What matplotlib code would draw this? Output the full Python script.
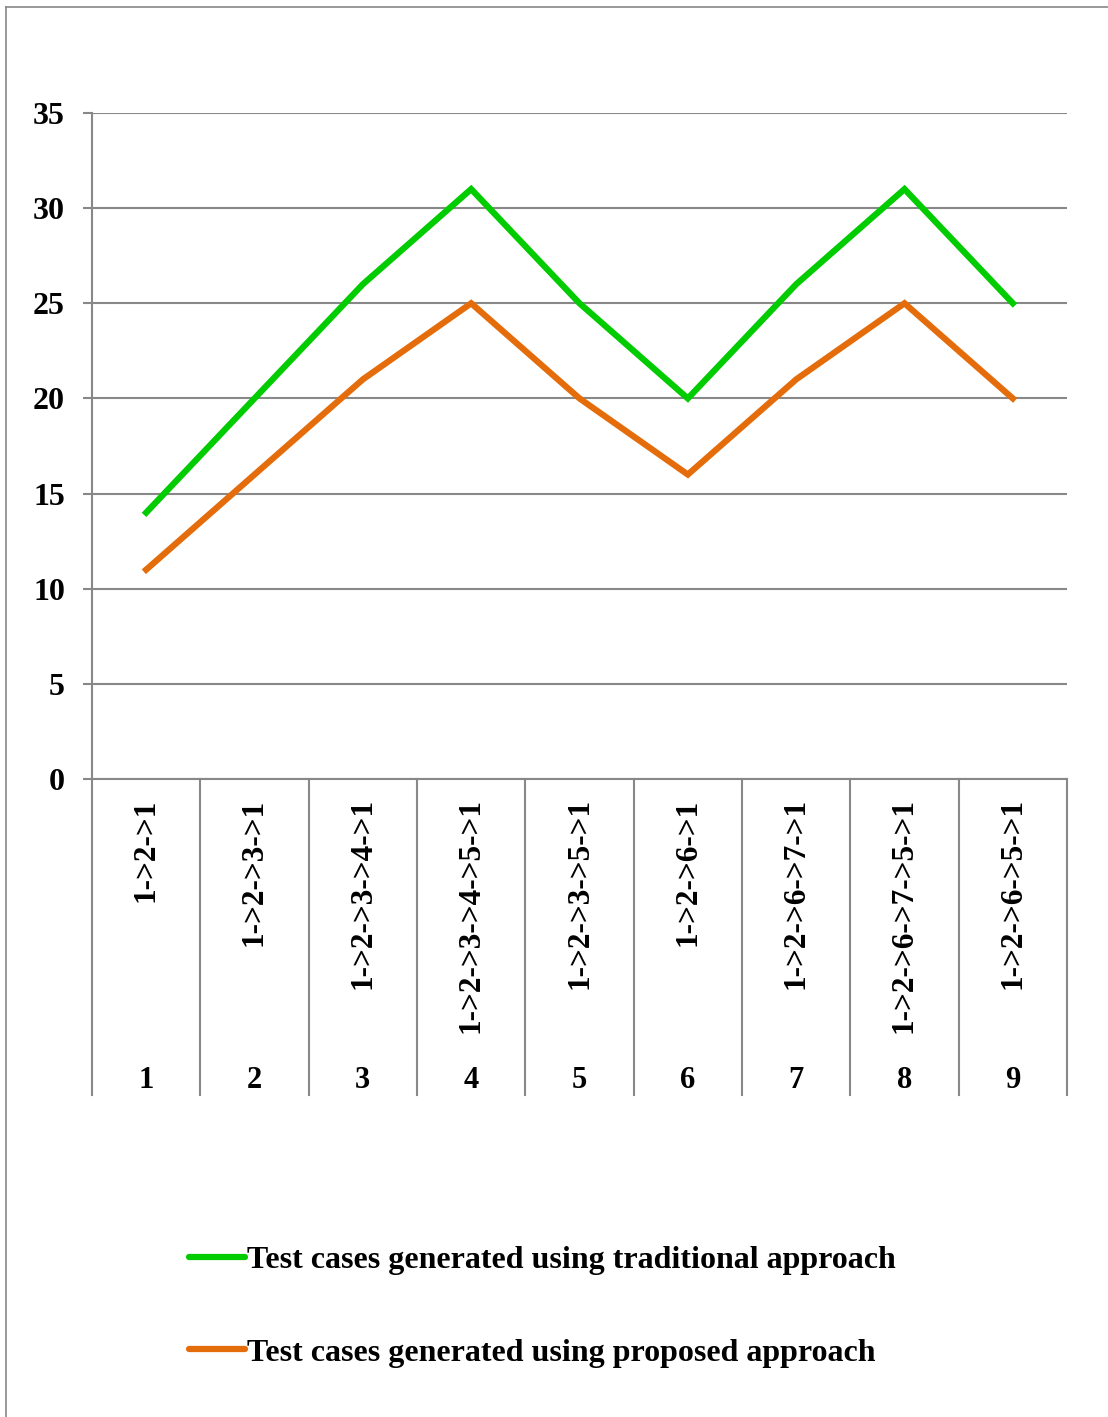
import matplotlib.pyplot as plt
from matplotlib.lines import Line2D

# data
cases = [1, 2, 3, 4, 5, 6, 7, 8, 9]
paths = ["1->2->1", "1->2->3->1", "1->2->3->4->1", "1->2->3->4->5->1",
         "1->2->3->5->1", "1->2->6->1", "1->2->6->7->1", "1->2->6->7->5->1",
         "1->2->6->5->1"]
traditional = [14, 20, 26, 31, 25, 20, 26, 31, 25]
proposed = [11, 16, 21, 25, 20, 16, 21, 25, 20]
series_names = ["Test cases generated using traditional approach",
                "Test cases generated using proposed approach"]

GREEN = "#00cc00"
ORANGE = "#e46c0a"
GREY = "#888888"
W, H = 1108, 1417

plt.rcParams['font.family'] = ['Liberation Serif', 'DejaVu Serif']
plt.rcParams['font.weight'] = 'bold'

fig = plt.figure(figsize=(W / 100, H / 100), dpi=100)
ax = fig.add_axes([92 / W, 1 - 779 / H, 975 / W, 666 / H])

l1, = ax.plot(cases, traditional, color=GREEN, lw=4.5, solid_joinstyle='miter')
l2, = ax.plot(cases, proposed, color=ORANGE, lw=4.5, solid_joinstyle='miter')

ax.set_xlim(0.5, 9.5)
ax.set_ylim(0, 35)
ax.set_yticks(range(0, 36, 5))
ax.yaxis.grid(True, color=GREY, lw=1.5)
ax.set_axisbelow(True)
ax.tick_params(axis='y', length=6.5, width=1.5, color=GREY, pad=13, labelsize=23)
ax.set_xticks([])
for s in ['top', 'right']:
    ax.spines[s].set_visible(False)
for s in ['left', 'bottom']:
    ax.spines[s].set_color(GREY)
    ax.spines[s].set_linewidth(1.5)
for lab in ax.get_yticklabels():
    lab.set_fontweight('bold')

# multi-level category axis
tr = ax.get_xaxis_transform()
for i in range(len(cases) + 1):
    xb = 0.5 + i
    ax.plot([xb, xb], [0, -0.4745], transform=tr, color=GREY, lw=1.5, clip_on=False)
for c, p in zip(cases, paths):
    ax.text(c, -0.029, p, transform=tr, rotation=90, ha='center', va='top',
            fontsize=22.5, fontweight='bold')
    ax.text(c, -0.453, str(c), transform=tr, ha='center', va='center',
            fontsize=22, fontweight='bold')

# legend
leg = fig.legend([l1, l2], series_names, loc='upper left', bbox_to_anchor=(173 / W, 1 - 1230 / H),
                 frameon=False, handlelength=1.75, handletextpad=0.08,
                 labelspacing=1.97, borderpad=0, prop={'weight': 'bold', 'size': 23})
for h in leg.get_lines():
    h.set_solid_capstyle('round')

# outer frame
fig.add_artist(Line2D([6 / W, 6 / W], [0, 1 - 7 / H], transform=fig.transFigure, color=GREY, lw=1.2))
fig.add_artist(Line2D([6 / W, 1], [1 - 7 / H, 1 - 7 / H], transform=fig.transFigure, color=GREY, lw=1.2))

fig.savefig("out.png", dpi=100)
